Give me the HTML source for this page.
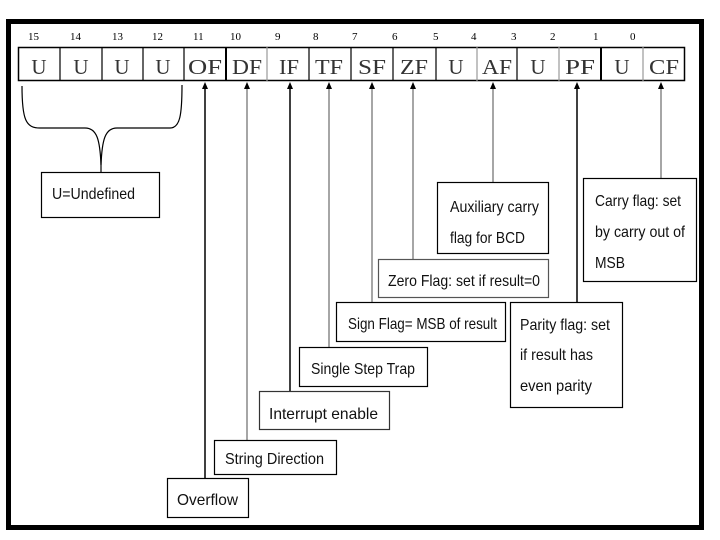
<!DOCTYPE html>
<html><head><style>body{margin:0;background:#fff}svg{display:block}</style></head><body>
<svg width="720" height="540" viewBox="0 0 720 540" xmlns="http://www.w3.org/2000/svg">
<rect x="0" y="0" width="720" height="540" fill="#fff"/>
<rect x="8.5" y="21.5" width="693" height="506" fill="none" stroke="#000" stroke-width="5"/>
<g font-family="Liberation Serif, serif" font-size="11" fill="#000">
<text x="28" y="40">15</text><text x="70" y="40">14</text><text x="112" y="40">13</text><text x="152" y="40">12</text>
<text x="193" y="40">11</text><text x="230" y="40">10</text><text x="275" y="40">9</text><text x="313" y="40">8</text>
<text x="352" y="40">7</text><text x="392" y="40">6</text><text x="433" y="40">5</text><text x="471" y="40">4</text>
<text x="511" y="40">3</text><text x="550" y="40">2</text><text x="593" y="40">1</text><text x="630" y="40">0</text>
</g>
<rect x="18.5" y="47.5" width="666" height="33" fill="none" stroke="#000" stroke-width="1.5"/>
<g stroke="#000" stroke-width="1.2">
<line x1="60" y1="47" x2="60" y2="81"/><line x1="102" y1="47" x2="102" y2="81"/><line x1="143" y1="47" x2="143" y2="81"/>
<line x1="184" y1="47" x2="184" y2="81"/><line x1="226" y1="47" x2="226" y2="81" stroke-width="2"/><line x1="267" y1="47" x2="267" y2="81" stroke="#999"/>
<line x1="309" y1="47" x2="309" y2="81"/><line x1="351" y1="47" x2="351" y2="81"/><line x1="393" y1="47" x2="393" y2="81"/>
<line x1="436" y1="47" x2="436" y2="81"/><line x1="477" y1="47" x2="477" y2="81" stroke="#999"/><line x1="517" y1="47" x2="517" y2="81"/>
<line x1="559" y1="47" x2="559" y2="81" stroke="#999"/><line x1="601" y1="47" x2="601" y2="81" stroke-width="2"/><line x1="643" y1="47" x2="643" y2="81" stroke="#999"/>
</g>
<g font-family="Liberation Serif, serif" font-size="21" fill="#333" text-anchor="middle">
<text x="39" y="74">U</text><text x="81" y="74">U</text><text x="122" y="74">U</text><text x="163" y="74">U</text>
<text x="205" y="74" textLength="34" lengthAdjust="spacingAndGlyphs">OF</text><text x="247" y="74" textLength="30" lengthAdjust="spacingAndGlyphs">DF</text>
<text x="289" y="74" textLength="20" lengthAdjust="spacingAndGlyphs">IF</text><text x="329" y="74" textLength="28" lengthAdjust="spacingAndGlyphs">TF</text>
<text x="372" y="74" textLength="28" lengthAdjust="spacingAndGlyphs">SF</text><text x="414" y="74" textLength="28" lengthAdjust="spacingAndGlyphs">ZF</text>
<text x="456" y="74">U</text><text x="497" y="74" textLength="30" lengthAdjust="spacingAndGlyphs">AF</text>
<text x="538" y="74">U</text><text x="580" y="74" textLength="30" lengthAdjust="spacingAndGlyphs">PF</text>
<text x="622" y="74">U</text><text x="664" y="74" textLength="30" lengthAdjust="spacingAndGlyphs">CF</text>
</g>
<path d="M22 86 C22 120 26 128 40 128 L85 128 C97 128 100 140 101 165 C102 140 105 128 117 128 L170 128 C180 128 182 115 182 85" fill="none" stroke="#000" stroke-width="1.2"/>
<line x1="101" y1="155" x2="101" y2="172" stroke="#000" stroke-width="1.2"/>
<rect x="41.5" y="172.5" width="118" height="45" fill="#fff" stroke="#000" stroke-width="1.2"/>
<g stroke-width="1.5">
<line x1="205" y1="86" x2="205" y2="478" stroke="#000"/>
<line x1="247" y1="86" x2="247" y2="440" stroke="#888"/>
<line x1="290" y1="86" x2="290" y2="391" stroke="#000"/>
<line x1="329" y1="86" x2="329" y2="347" stroke="#888"/>
<line x1="372" y1="86" x2="372" y2="302" stroke="#888"/>
<line x1="413" y1="86" x2="413" y2="259" stroke="#888"/>
<line x1="493" y1="86" x2="493" y2="182" stroke="#888"/>
<line x1="577" y1="86" x2="577" y2="302" stroke="#000"/>
<line x1="661" y1="86" x2="661" y2="178" stroke="#888"/>
</g>
<g fill="#000">
<polygon points="205,82 202,89 208,89"/><polygon points="247,82 244,89 250,89"/><polygon points="290,82 287,89 293,89"/>
<polygon points="329,82 326,89 332,89"/><polygon points="372,82 369,89 375,89"/><polygon points="413,82 410,89 416,89"/>
<polygon points="493,82 490,89 496,89"/><polygon points="577,82 574,89 580,89"/><polygon points="661,82 658,89 664,89"/>
</g>
<g fill="#fff" stroke="#000" stroke-width="1.2">
<rect x="167.5" y="478.5" width="81" height="39"/>
<rect x="214.5" y="440.5" width="122" height="34"/>
<rect x="259.5" y="391.5" width="130" height="38" stroke="#333"/>
<rect x="299.5" y="347.5" width="128" height="39"/>
<rect x="336.5" y="302.5" width="169" height="39"/>
<rect x="378.5" y="259.5" width="170" height="38" stroke="#555"/>
<rect x="437.5" y="182.5" width="111" height="71"/>
<rect x="510.5" y="302.5" width="112" height="105"/>
<rect x="583.5" y="178.5" width="113" height="103"/>
</g>
<g font-family="Liberation Sans Narrow, Liberation Sans, sans-serif" font-size="16" fill="#111">
<text x="52" y="199" textLength="83" lengthAdjust="spacingAndGlyphs">U=Undefined</text>
<text x="177" y="505" textLength="61" lengthAdjust="spacingAndGlyphs">Overflow</text>
<text x="225" y="464" textLength="99" lengthAdjust="spacingAndGlyphs">String Direction</text>
<text x="269" y="419" textLength="109" lengthAdjust="spacingAndGlyphs">Interrupt enable</text>
<text x="311" y="374" textLength="104" lengthAdjust="spacingAndGlyphs">Single Step Trap</text>
<text x="348" y="329" textLength="149" lengthAdjust="spacingAndGlyphs">Sign Flag= MSB of result</text>
<text x="388" y="286" textLength="152" lengthAdjust="spacingAndGlyphs">Zero Flag: set if result=0</text>
<text x="450" y="212" textLength="89" lengthAdjust="spacingAndGlyphs">Auxiliary carry</text>
<text x="450" y="243" textLength="75" lengthAdjust="spacingAndGlyphs">flag for BCD</text>
<text x="520" y="330" textLength="90" lengthAdjust="spacingAndGlyphs">Parity flag: set</text>
<text x="520" y="360" textLength="73" lengthAdjust="spacingAndGlyphs">if result has</text>
<text x="520" y="391" textLength="72" lengthAdjust="spacingAndGlyphs">even parity</text>
<text x="595" y="206" textLength="86" lengthAdjust="spacingAndGlyphs">Carry flag: set</text>
<text x="595" y="237" textLength="90" lengthAdjust="spacingAndGlyphs">by carry out of</text>
<text x="595" y="268" textLength="30" lengthAdjust="spacingAndGlyphs">MSB</text>
</g>
</svg>
</body></html>
